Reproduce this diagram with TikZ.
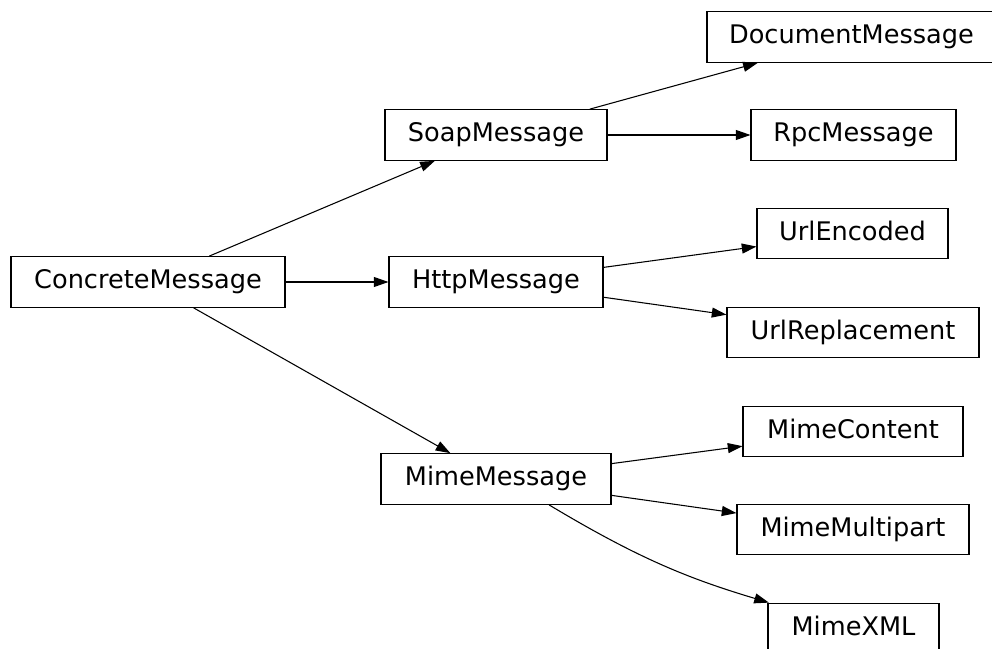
\documentclass[tikz,border=0pt]{standalone}
\usepackage{fontspec}
\setmainfont{DejaVu Sans}
\usetikzlibrary{arrows.meta}
\begin{document}
\begin{tikzpicture}[x=0.75pt,y=-0.75pt,
  cls/.style={draw, line width=0.8pt, inner sep=0pt, minimum height=38pt,
    font=\fontsize{19.2pt}{23pt}\selectfont, text height=14.6pt, text depth=4.6pt},
  edge/.style={line width=0.8pt, -{Triangle[length=11pt,width=7.5pt]}}]
\useasboundingbox (0,0) rectangle (992,649);
\node[cls, minimum width=216.75pt] (doc) at (851.5,37) {DocumentMessage};
\node[cls, minimum width=166.5pt] (soap) at (496,135) {SoapMessage};
\node[cls, minimum width=153.75pt] (rpc) at (853.5,135) {RpcMessage};
\node[cls, minimum width=143.25pt] (urlenc) at (852.5,233.5) {UrlEncoded};
\node[cls, minimum width=205.5pt] (concrete) at (148,282) {ConcreteMessage};
\node[cls, minimum width=160.5pt] (http) at (496,282) {HttpMessage};
\node[cls, minimum width=189pt] (urlrep) at (853,332.5) {UrlReplacement};
\node[cls, minimum width=165pt] (mcontent) at (853,431.5) {MimeContent};
\node[cls, minimum width=172.5pt] (mmsg) at (496,479) {MimeMessage};
\node[cls, minimum width=174pt] (mmulti) at (853,529.5) {MimeMultipart};
\node[cls, minimum width=128.25pt] (mxml) at (853.5,628.5) {MimeXML};
\draw[edge] (concrete) -- (soap);
\draw[edge] (concrete) -- (http);
\draw[edge] (concrete) -- (mmsg);
\draw[edge] (soap) -- (doc);
\draw[edge] (soap) -- (rpc);
\draw[edge] (http) -- (urlenc);
\draw[edge] (http) -- (urlrep);
\draw[edge] (mmsg) -- (mcontent);
\draw[edge] (mmsg) -- (mmulti);
\draw[edge] (mmsg.-26.6) .. controls +(90,54) and +(-80,-24) .. (mxml.163);
\end{tikzpicture}
\end{document}
